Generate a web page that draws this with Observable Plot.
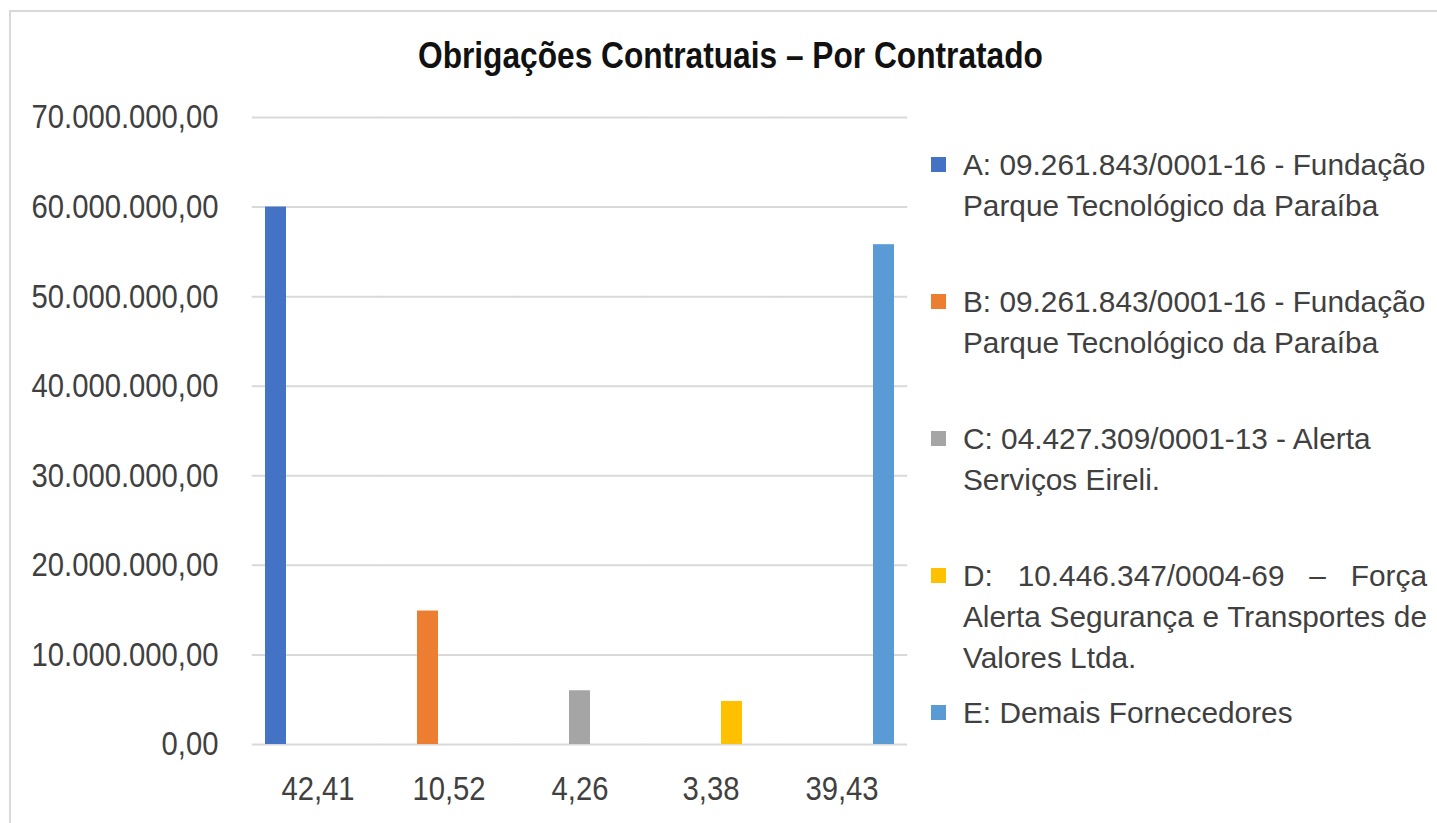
<!DOCTYPE html>
<html>
<head>
<meta charset="utf-8">
<script src="https://cdn.jsdelivr.net/npm/d3@7"></script>
<script src="https://cdn.jsdelivr.net/npm/@observablehq/plot@0.6"></script>
<style>
  html, body { margin: 0; padding: 0; background: #fff; overflow: hidden; }
  #wrap { position: relative; width: 1437px; height: 823px; overflow: hidden; background: #fff; }
  #frame { position: absolute; left: 9px; top: 10px; width: 1470px; height: 860px; border: 2px solid #d9d9d9; box-sizing: border-box; }
  #title { position: absolute; left: 0; top: 38px; width: 1461px; text-align: center; font-family: "Liberation Sans", Arial, sans-serif; font-weight: bold; font-size: 36px; line-height: 36px; color: #111; white-space: nowrap; transform: scaleX(0.88); transform-origin: 730px 0; }
  #chart { position: absolute; left: 0; top: 0; }
  #legend { position: absolute; left: 931px; top: 0; width: 506px; font-family: "Liberation Sans", Arial, sans-serif; font-size: 29.8px; line-height: 41px; color: #404040; }
  .item { position: absolute; left: 0; width: 506px; }
  .sw { position: absolute; left: 0; top: 13px; width: 15px; height: 15px; }
  .txt { position: absolute; left: 32px; width: 464px; }
  .txt.j { text-align: justify; }
</style>
</head>
<body>
<div id="wrap">
  <div id="frame"></div>
  <div id="title"></div>
  <div id="chart"></div>
  <div id="legend"></div>
</div>
<script>
const title = "Obrigações Contratuais – Por Contratado";
const categories = ["42,41", "10,52", "4,26", "3,38", "39,43"];
const series = [
  "A: 09.261.843/0001-16 - Fundação Parque Tecnológico da Paraíba",
  "B: 09.261.843/0001-16 - Fundação Parque Tecnológico da Paraíba",
  "C: 04.427.309/0001-13 - Alerta Serviços Eireli.",
  "D: 10.446.347/0004-69 – Força Alerta Segurança e Transportes de Valores Ltda.",
  "E: Demais Fornecedores"
];
const values = [60000000, 14900000, 6000000, 4800000, 55800000];
const colors = ["#4472C4", "#ED7D31", "#A5A5A5", "#FFC000", "#5B9BD5"];
const yTicks = [0, 10000000, 20000000, 30000000, 40000000, 50000000, 60000000, 70000000];
const justified = [false, false, false, true, false];

const ptBR = d3.formatLocale({decimal: ",", thousands: ".", grouping: [3], currency: ["R$ ", ""]});
const fmt = ptBR.format(",.2f");

document.getElementById("title").textContent = title;

const data = categories.map((c, i) => ({category: c, series: series[i], value: values[i]}));

const chart = Plot.plot({
  width: 920,
  height: 823,
  marginTop: 117,
  marginBottom: 79,
  marginLeft: 251,
  marginRight: 12,
  style: {fontFamily: '"Liberation Sans", Arial, sans-serif', fontSize: "34px", color: "#404040", background: "transparent", overflow: "visible"},
  facet: {data, x: "category"},
  fx: {domain: categories, paddingInner: 0.2, paddingOuter: 0.1, axis: "bottom", tickSize: 0, tickPadding: 31, label: null},
  x: {domain: series, padding: 0, axis: null},
  y: {domain: [0, 70000000], ticks: yTicks, tickFormat: fmt, tickSize: 0, tickPadding: 47, label: null},
  color: {domain: series, range: colors},
  marks: [
    Plot.ruleY(yTicks, {stroke: "#d9d9d9", strokeWidth: 2, insetLeft: -13.2, insetRight: -13.2}),
    Plot.barY(data, {x: "series", y: "value", fill: "series"})
  ]
});
document.getElementById("chart").appendChild(chart);

// emulate the condensed (Arial Narrow-like) axis lettering of the original
chart.querySelectorAll("text").forEach(t => {
  const w = t.getComputedTextLength();
  if (w > 0) {
    t.setAttribute("textLength", (w * 0.86).toFixed(1));
    t.setAttribute("lengthAdjust", "spacingAndGlyphs");
  }
});

const legend = document.getElementById("legend");
series.forEach((s, i) => {
  const item = document.createElement("div");
  item.className = "item";
  item.style.top = (144 + i * 137) + "px";
  const sw = document.createElement("div");
  sw.className = "sw";
  sw.style.background = colors[i];
  const txt = document.createElement("div");
  txt.className = "txt" + (justified[i] ? " j" : "");
  txt.textContent = s;
  item.appendChild(sw);
  item.appendChild(txt);
  legend.appendChild(item);
});
</script>
</body>
</html>
